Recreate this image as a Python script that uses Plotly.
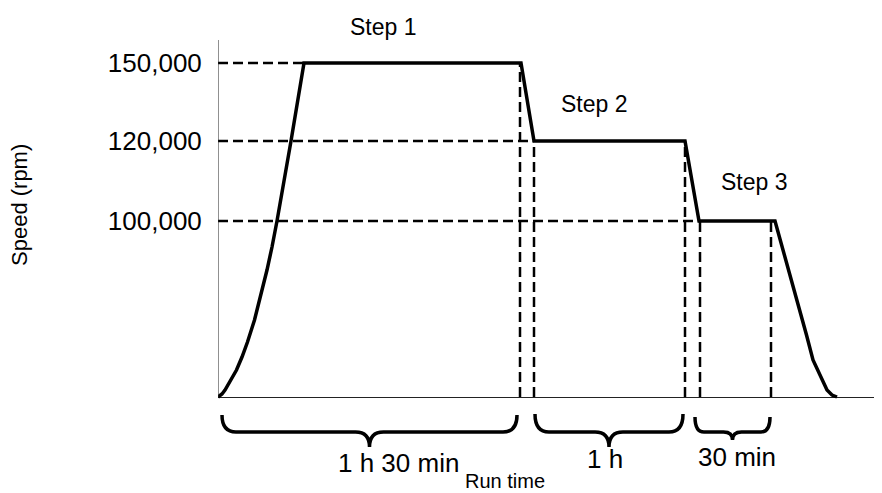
import plotly.graph_objects as go

# schematic coordinates: x = run time units, y = drawn height of the speed level
speed_labels = ["100,000", "120,000", "150,000"]
speed_pos = [176, 256, 334]

# speed profile (x, height)
profile_x = [0, 4, 7, 10, 14.5, 18.5, 24, 29.5, 36.5, 42.5, 49, 54, 59, 73, 86,
             303, 316, 467, 481, 557,
             582, 588.5, 595, 604, 609, 614, 619]
profile_y = [0, 3, 7, 12, 20, 27, 40, 55, 77, 100, 127, 150, 176, 256, 334,
             334, 256, 256, 176, 176,
             87, 62, 37, 17, 7, 2, 0]

# dashed guide lines
h_guides_end = [86, 316, 481]          # for 150k, 120k, 100k
h_guides_pos = [334, 256, 176]
v_guides_x = [302, 316, 467, 482, 553]
v_guides_top = [334, 256, 256, 176, 176]

step_labels = ["Step 1", "Step 2", "Step 3"]
step_label_x = [165, 376, 536]
step_label_y = [370, 293, 215]

dur_labels = ["1 h 30 min", "1 h", "30 min"]
dur_label_x = [180, 387, 519]
dur_label_y = [-66, -62, -60]
brace_start = [4, 317, 477]
brace_end = [299, 465, 552]
brace_top = [-18, -17, -20]
brace_tip = [-50, -50, -43]

fig = go.Figure()

for xe, yp in zip(h_guides_end, h_guides_pos):
    fig.add_trace(go.Scatter(x=[0, xe], y=[yp, yp], mode="lines",
                             line=dict(color="black", width=2.5, dash="10px,5px"),
                             hoverinfo="skip"))
for xv, yt in zip(v_guides_x, v_guides_top):
    fig.add_trace(go.Scatter(x=[xv, xv], y=[0, yt], mode="lines",
                             line=dict(color="black", width=2.5, dash="10px,5px"),
                             hoverinfo="skip"))

fig.add_trace(go.Scatter(x=profile_x, y=profile_y, mode="lines",
                         line=dict(color="black", width=3.5)))

# y axis line
fig.add_shape(type="line", x0=0, x1=0, y0=0, y1=357, xref="x", yref="y",
              line=dict(color="#222", width=1))

# braces under each step
for x0, x1, top, tip in zip(brace_start, brace_end, brace_top, brace_tip):
    xm = (x0 + x1) / 2
    mid = -35
    r = 14 if (x1 - x0) > 100 else 9
    path = (f"M {x0},{top} Q {x0},{mid} {x0 + r},{mid} L {xm - r},{mid} "
            f"Q {xm},{mid} {xm},{tip} Q {xm},{mid} {xm + r},{mid} "
            f"L {x1 - r},{mid} Q {x1},{mid} {x1},{top}")
    fig.add_shape(type="path", path=path, xref="x", yref="y",
                  line=dict(color="black", width=3.5))

font_main = "Liberation Sans, Arial, sans-serif"
for t, x, y in zip(step_labels, step_label_x, step_label_y):
    fig.add_annotation(x=x, y=y, text=t, showarrow=False,
                       font=dict(size=23, color="black", family=font_main))
for t, x, y in zip(dur_labels, dur_label_x, dur_label_y):
    fig.add_annotation(x=x, y=y, text=t, showarrow=False,
                       font=dict(size=26, color="black", family=font_main))

fig.add_annotation(x=287, y=-84, text="Run time", showarrow=False,
                   font=dict(size=20, color="black", family=font_main))
fig.add_annotation(x=-0.2997, y=192, xref="paper", yref="y",
                   xanchor="center", yanchor="middle",
                   text="Speed (rpm)", textangle=-90, showarrow=False,
                   font=dict(size=22, color="black", family=font_main))

# page has an 8px body margin, so the figure is shifted by it
fig.update_layout(
    width=874, height=485,
    margin=dict(l=210, r=0, t=0, b=0),
    paper_bgcolor="white", plot_bgcolor="white",
    showlegend=False,
    xaxis=dict(range=[0, 664], showgrid=False, zeroline=False,
               showticklabels=False, showline=False),
    yaxis=dict(range=[-96, 389], showgrid=False, zeroline=True,
               zerolinecolor="#222", zerolinewidth=1,
               tickvals=speed_pos, ticktext=speed_labels,
               ticks="outside", ticklen=10, tickcolor="rgba(0,0,0,0)",
               tickfont=dict(size=26, color="black", family=font_main),
               showline=False),
)

fig.write_html("out.html")
